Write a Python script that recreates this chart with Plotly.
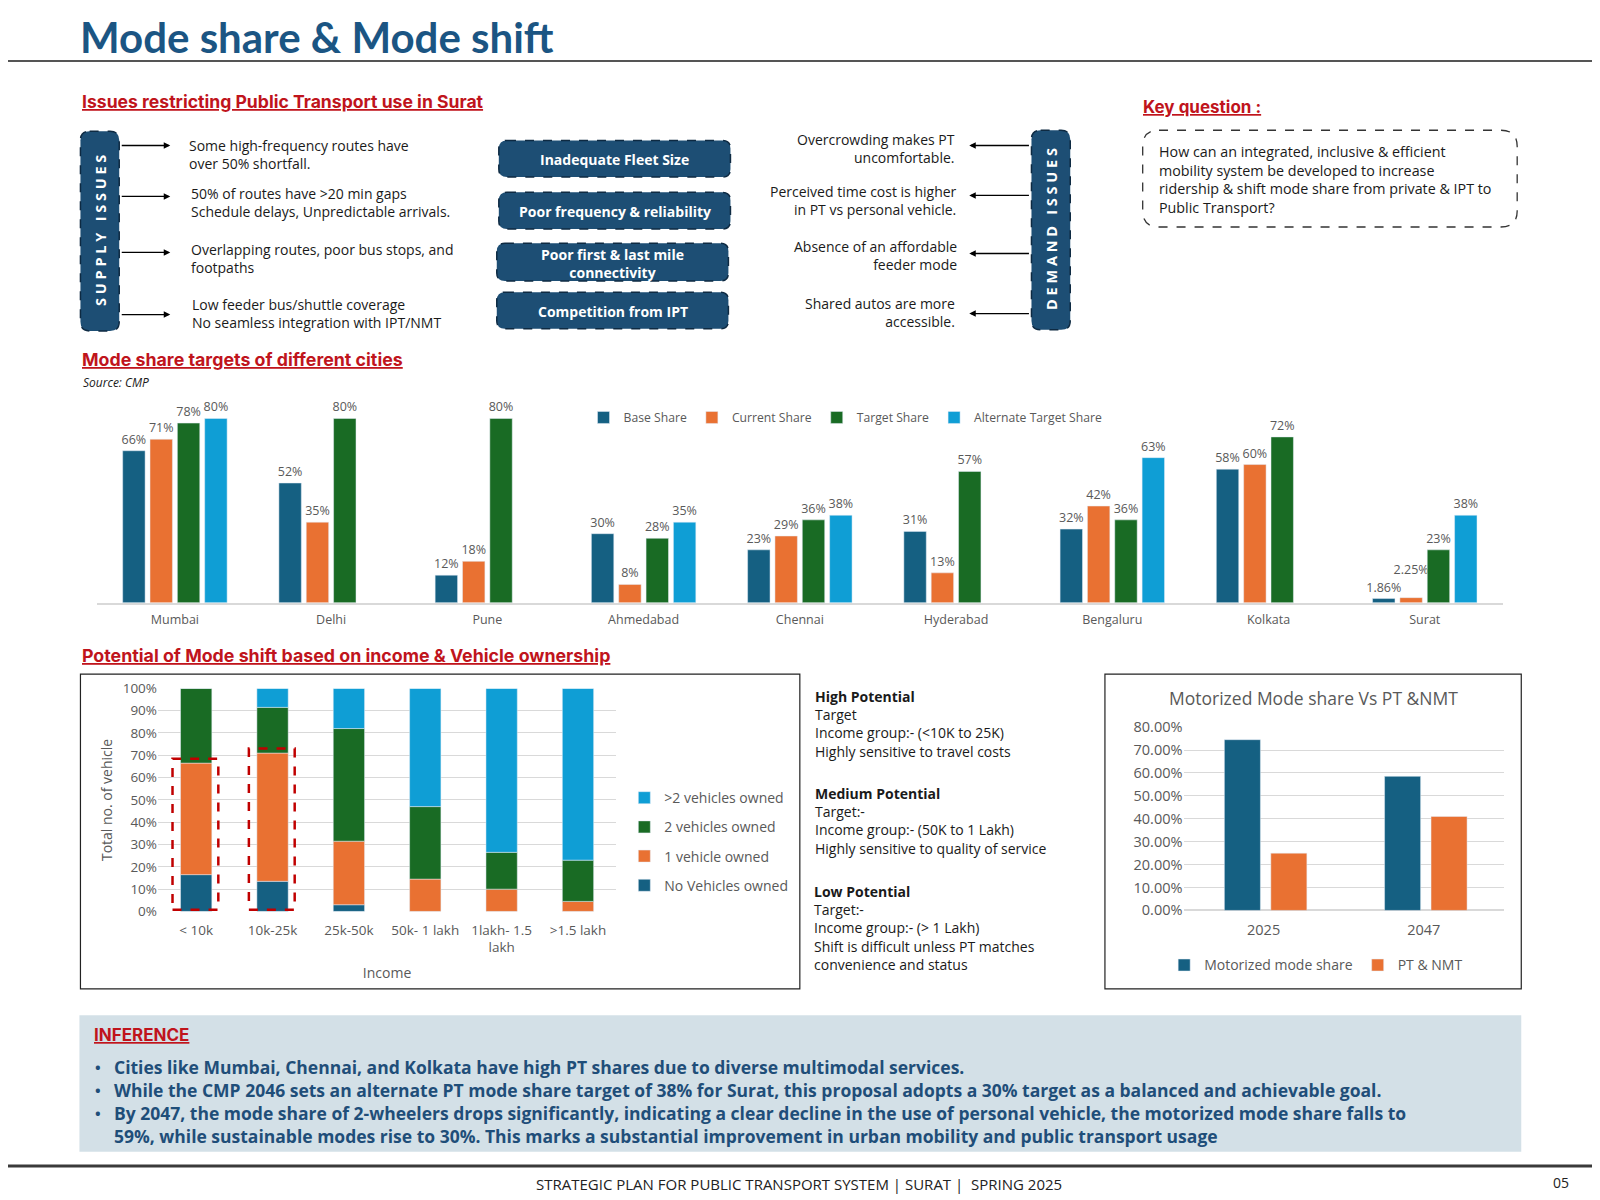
import plotly.graph_objects as go

# ---------------- DATA ----------------
cities = ["Mumbai", "Delhi", "Pune", "Ahmedabad", "Chennai", "Hyderabad", "Bengaluru", "Kolkata", "Surat"]
base_share = [66, 52, 12, 30, 23, 31, 32, 58, 1.86]
current_share = [71, 35, 18, 8, 29, 13, 42, 60, 2.25]
target_share = [78, 80, 80, 28, 36, 57, 36, 72, 23]
alt_target_share = [80, None, None, 35, 38, None, 63, None, 38]

income_groups = ["&lt; 10k", "10k-25k", "25k-50k", "50k- 1 lakh", "1lakh- 1.5<br>lakh", ">1.5 lakh"]
no_vehicle = [16.5, 13.5, 3, 0, 0, 0]
one_vehicle = [50, 57.5, 28.5, 14.5, 10, 4.5]
two_vehicles = [33.5, 20.5, 50.5, 32.5, 16.5, 18.5]
more_vehicles = [0, 8.5, 18, 53, 73.5, 77]
highlight_groups = [0, 1]

years = ["2025", "2047"]
motorized_share = [0.745, 0.585]
pt_nmt_share = [0.25, 0.41]

# ---------------- STYLE ----------------
W0, H0 = 1568, 1176
S = 1600 / W0
def px(x): return (x - 8) / W0
def py(y): return 1 - ((y - 15.8) / 0.986) / H0

C_BLUE, C_ORANGE, C_GREEN, C_LBLUE = "#156082", "#E97132", "#196B24", "#0F9ED5"
GRAY = "#595959"
RED = "#C0141C"
NAVY = "#1d4e74"
TXT = "#1a1a1a"
BODY = "Open Sans, Lato, sans-serif"
HEAD = "Inter, Lato, sans-serif"
TITLE = "Lato, sans-serif"

# labels that sit one line higher to avoid overlapping a neighbour (label placement only)
label_lift = {("Current Share", "Surat")}

fig = go.Figure()

# ---------- Chart 1: mode share targets ----------
for name, vals, col in [("Base Share", base_share, C_BLUE), ("Current Share", current_share, C_ORANGE),
                        ("Target Share", target_share, C_GREEN), ("Alternate Target Share", alt_target_share, C_LBLUE)]:
    labels = []
    for c, v in zip(cities, vals):
        if v is None:
            labels.append("")
        elif (name, c) in label_lift:
            labels.append(f"{v:g}%<br>\u00a0")
        else:
            labels.append(f"{v:g}%")
    fig.add_trace(go.Bar(
        x=cities, y=vals, name=name, marker_color=col, xaxis="x", yaxis="y",
        text=labels, textposition="outside", textfont=dict(size=12.5, color=GRAY, family=BODY),
        cliponaxis=False, constraintext="none", legend="legend", hoverinfo="skip"))

# ---------- Chart 2: stacked vehicle ownership ----------
cum = [0.0] * len(income_groups)
stack_series = [("No Vehicles owned", no_vehicle, C_BLUE), ("1 vehicle owned", one_vehicle, C_ORANGE),
                ("2 vehicles owned", two_vehicles, C_GREEN), (">2 vehicles owned", more_vehicles, C_LBLUE)]
for k, (name, vals, col) in enumerate(stack_series):
    fig.add_trace(go.Bar(
        x=income_groups, y=vals, base=list(cum), name=name, marker_color=col,
        offset=-0.205, width=0.41, xaxis="x2", yaxis="y2", legend="legend2",
        legendgroup=name, legendrank=len(stack_series) - k, hoverinfo="skip"))
    cum = [c + v for c, v in zip(cum, vals)]

# ---------- Chart 3: motorized vs PT & NMT ----------
fig.add_trace(go.Bar(x=years, y=motorized_share, name="Motorized mode share", marker_color=C_BLUE,
                     offset=-0.245, width=0.225, xaxis="x3", yaxis="y3", legend="legend3", hoverinfo="skip"))
fig.add_trace(go.Bar(x=years, y=pt_nmt_share, name="PT & NMT", marker_color=C_ORANGE,
                     offset=0.045, width=0.225, xaxis="x3", yaxis="y3", legend="legend3", hoverinfo="skip"))

shapes = []
annotations = []

def rrect(x0, y0, x1, y1, r, fill, line_color, dash="dash", width=1.5):
    X0, X1, Y0, Y1 = px(x0), px(x1), py(y0), py(y1)
    rx, ry = r / W0, r / H0
    path = (f"M {X0+rx},{Y0} L {X1-rx},{Y0} Q {X1},{Y0} {X1},{Y0-ry} "
            f"L {X1},{Y1+ry} Q {X1},{Y1} {X1-rx},{Y1} L {X0+rx},{Y1} Q {X0},{Y1} {X0},{Y1+ry} "
            f"L {X0},{Y0-ry} Q {X0},{Y0} {X0+rx},{Y0} Z")
    shapes.append(dict(type="path", path=path, xref="paper", yref="paper", fillcolor=fill,
                       line=dict(color=line_color, width=width, dash=dash), layer="below"))

def text(x, y, s, size=14, color=TXT, xanchor="left", yanchor="middle", align="left", angle=0, family=BODY):
    annotations.append(dict(x=px(x), y=py(y), xref="paper", yref="paper", text=s, showarrow=False,
                            xanchor=xanchor, yanchor=yanchor, align=align, textangle=angle,
                            font=dict(size=size, color=color, family=family)))

def arrow(x_head, y, x_tail):
    annotations.append(dict(x=px(x_head), y=py(y), xref="paper", yref="paper", text="",
                            showarrow=True, ax=(x_tail - x_head) * S, ay=0, arrowhead=2,
                            arrowsize=1, arrowwidth=1.3, arrowcolor="#000"))

def hline(x0, x1, y, color, width):
    shapes.append(dict(type="line", xref="paper", yref="paper", x0=px(x0), x1=px(x1), y0=py(y), y1=py(y),
                       line=dict(color=color, width=width)))

def box(x0, y0, x1, y1, color="#222", width=1.2, fill="rgba(0,0,0,0)"):
    shapes.append(dict(type="rect", xref="paper", yref="paper", x0=px(x0), x1=px(x1), y0=py(y1), y1=py(y0),
                       line=dict(color=color, width=width), fillcolor=fill, layer="below"))

# Title
text(77, 34, "<b>Mode share & Mode shift</b>", size=42, color="#1b5583", family=TITLE)
hline(0, 1600, 58, "#555555", 2)

# Section headings
text(79, 98, "<b><u>Issues restricting Public Transport use in Surat</u></b>", size=17.6, color=RED, family=HEAD)
text(79, 351, "<b><u>Mode share targets of different cities</u></b>", size=17.8, color=RED, family=HEAD)
text(79, 642, "<b><u>Potential of Mode shift based on income & Vehicle ownership</u></b>", size=17.8, color=RED, family=HEAD)
text(1118, 103, "<b><u>Key question :</u></b>", size=17, color=RED, family=HEAD)
text(80, 374, "<i>Source: CMP</i>", size=12, color=TXT)

# Supply / Demand pills
rrect(79, 127, 117, 323, 9, NAVY, "#0e2a42")
text(98, 224, "<b>S U P P L Y   I S S U E S</b>", size=14.5, color="white", xanchor="center", angle=-90)
rrect(1011, 126, 1049, 322, 9, NAVY, "#0e2a42")
text(1030, 223, "<b>D E M A N D   I S S U E S</b>", size=14.5, color="white", xanchor="center", angle=-90)

# Supply arrows and text
for y in [141, 191, 246, 307]:
    arrow(167, y, 118)
text(183, 150, "Some high-frequency routes have<br>over 50% shortfall.", size=14)
text(185, 197, "50% of routes have >20 min gaps<br>Schedule delays, Unpredictable arrivals.", size=14)
text(185, 252, "Overlapping routes, poor bus stops, and<br>footpaths", size=14)
text(186, 306, "Low feeder bus/shuttle coverage<br>No seamless integration with IPT/NMT", size=14)

# Middle boxes
for (x0, y0, x1, y1, s) in [(489, 136, 716, 172, "Inadequate Fleet Size"),
                            (489, 187, 716, 223, "Poor frequency & reliability"),
                            (487, 237, 714, 274, "Poor first & last mile<br>connectivity"),
                            (487, 285, 714, 321, "Competition from IPT")]:
    rrect(x0, y0, x1, y1, 8, NAVY, "#0e2a42")
    text((x0 + x1) / 2, (y0 + y1) / 2 + 1, f"<b>{s}</b>", size=14, color="white", xanchor="center", align="center")

# Demand arrows and text
for y in [141, 190, 247, 306]:
    arrow(950, y, 1010)
text(938, 144, "Overcrowding makes PT<br>uncomfortable.", size=14, xanchor="right", align="right")
text(940, 195, "Perceived time cost is higher<br>in PT vs personal vehicle.", size=14, xanchor="right", align="right")
text(940, 249, "Absence of an affordable<br>feeder mode", size=14, xanchor="right", align="right")
text(938, 305, "Shared autos are more<br>accessible.", size=14, xanchor="right", align="right")

# Key question box
rrect(1120, 126, 1487, 221, 16, "rgba(0,0,0,0)", "#333333", dash="dash", width=1.3)
text(1134, 174, "How can an integrated, inclusive & efficient<br>mobility system be developed to increase<br>"
                "ridership & shift mode share from private & IPT to<br>Public Transport?", size=14.3)

# Chart boxes
box(79, 660, 784, 969)
box(1083, 660, 1491, 969)
text(1287, 683, "Motorized Mode share Vs PT &NMT", size=17.5, color=GRAY, xanchor="center")

# Highlight boxes on stacked chart (data coordinates)
stack_low = [n + o for n, o in zip(no_vehicle, one_vehicle)]
for i in highlight_groups:
    shapes.append(dict(type="rect", xref="x2", yref="y2", x0=i - 0.31, x1=i + 0.29, y0=0.8, y1=stack_low[i] + 2,
                       line=dict(color="#C00000", width=2.5, dash="dash"), layer="above"))

# Potential text column
text(797, 709, "<b>High Potential</b><br>Target<br>Income group:- (&lt;10K to 25K)<br>Highly sensitive to travel costs", size=14)
text(797, 804, "<b>Medium Potential</b><br>Target:-<br>Income group:- (50K to 1 Lakh)<br>Highly sensitive to quality of service", size=14)
text(796, 909, "<b>Low Potential</b><br>Target:-<br>Income group:- (> 1 Lakh)<br>Shift is difficult unless PT matches<br>convenience and status", size=14)

# Inference box
box(78, 995, 1491, 1129, color="rgba(0,0,0,0)", width=0, fill="#d3e0e7")
text(90, 1014, "<b><u>INFERENCE</u></b>", size=17, color=RED, family=HEAD)
inf_lines = [
    (1046, True, "Cities like Mumbai, Chennai, and Kolkata have high PT shares due to diverse multimodal services."),
    (1068, True, "While the CMP 2046 sets an alternate PT mode share target of 38% for Surat, this proposal adopts a 30% target as a balanced and achievable goal."),
    (1091, True, "By 2047, the mode share of 2-wheelers drops significantly, indicating a clear decline in the use of personal vehicle, the motorized mode share falls to"),
    (1113, False, "59%, while sustainable modes rise to 30%. This marks a substantial improvement in urban mobility and public transport usage"),
]
for y, bullet, s in inf_lines:
    if bullet:
        text(91, y, "<b>•</b>", size=15, color="#1f4e79")
    text(110, y, f"<b>{s}</b>", size=17.5, color="#1f4e79")

# Footer
hline(0, 1600, 1143, "#3a3a3a", 3)
text(783, 1161, "STRATEGIC PLAN FOR PUBLIC TRANSPORT SYSTEM | SURAT |  SPRING 2025", size=15, color="#222", xanchor="center")
text(1530, 1159, "05", size=14, color="#222", xanchor="center")

axis_font = dict(size=12.5, color=GRAY, family=BODY)
fig.update_layout(
    width=1600, height=1200, margin=dict(l=0, r=0, t=0, b=0),
    paper_bgcolor="white", plot_bgcolor="rgba(0,0,0,0)",
    font=dict(family=BODY, color=TXT),
    barmode="group", bargap=0.3, bargroupgap=0.18,
    showlegend=True,
    xaxis=dict(domain=[px(95), px(1473)], anchor="y", showline=True, linecolor="#d9d9d9", linewidth=1.5,
               ticks="", tickfont=axis_font, showgrid=False, fixedrange=True, ticklabelstandoff=4),
    yaxis=dict(domain=[py(590), py(380)], range=[0, 210 / 2.2625], visible=False, fixedrange=True),
    xaxis2=dict(domain=[px(155), px(604)], anchor="y2", ticks="", tickfont=dict(size=13.5, color=GRAY, family=BODY),
                showline=False, showgrid=False, ticklabelstandoff=9,
                title=dict(text="Income", font=dict(size=14, color=GRAY, family=BODY), standoff=12)),
    yaxis2=dict(domain=[py(893), py(674)], range=[0, 100], dtick=10, ticksuffix="%", anchor="x2",
                gridcolor="#d9d9d9", zeroline=False, tickfont=dict(size=13.5, color=GRAY, family=BODY),
                title=dict(text="Total no. of vehicle", font=dict(size=14, color=GRAY, family=BODY), standoff=6)),
    xaxis3=dict(domain=[px(1160), px(1474)], anchor="y3", ticks="", showline=False, showgrid=False,
                tickfont=dict(size=14.5, color=GRAY, family=BODY), ticklabelstandoff=9),
    yaxis3=dict(domain=[py(892), py(712)], range=[0, 0.8], dtick=0.1, tickformat=".2%", anchor="x3",
                gridcolor="#d9d9d9", zeroline=True, zerolinecolor="#d9d9d9",
                tickfont=dict(size=14.5, color=GRAY, family=BODY)),
    legend=dict(orientation="h", x=px(572), y=py(408), xanchor="left", yanchor="middle",
                font=dict(size=12.2, color=GRAY, family=BODY), bgcolor="rgba(0,0,0,0)", itemwidth=30),
    legend2=dict(orientation="v", x=px(612), y=py(766), xanchor="left", yanchor="top", traceorder="grouped",
                 font=dict(size=14, color=GRAY, family=BODY), bgcolor="rgba(0,0,0,0)", tracegroupgap=8,
                 itemwidth=30),
    legend3=dict(orientation="h", x=px(1290), y=py(946), xanchor="center", yanchor="middle",
                 font=dict(size=14, color=GRAY, family=BODY), bgcolor="rgba(0,0,0,0)", itemwidth=30),
    shapes=shapes, annotations=annotations,
)

fig.write_html("out.html")
